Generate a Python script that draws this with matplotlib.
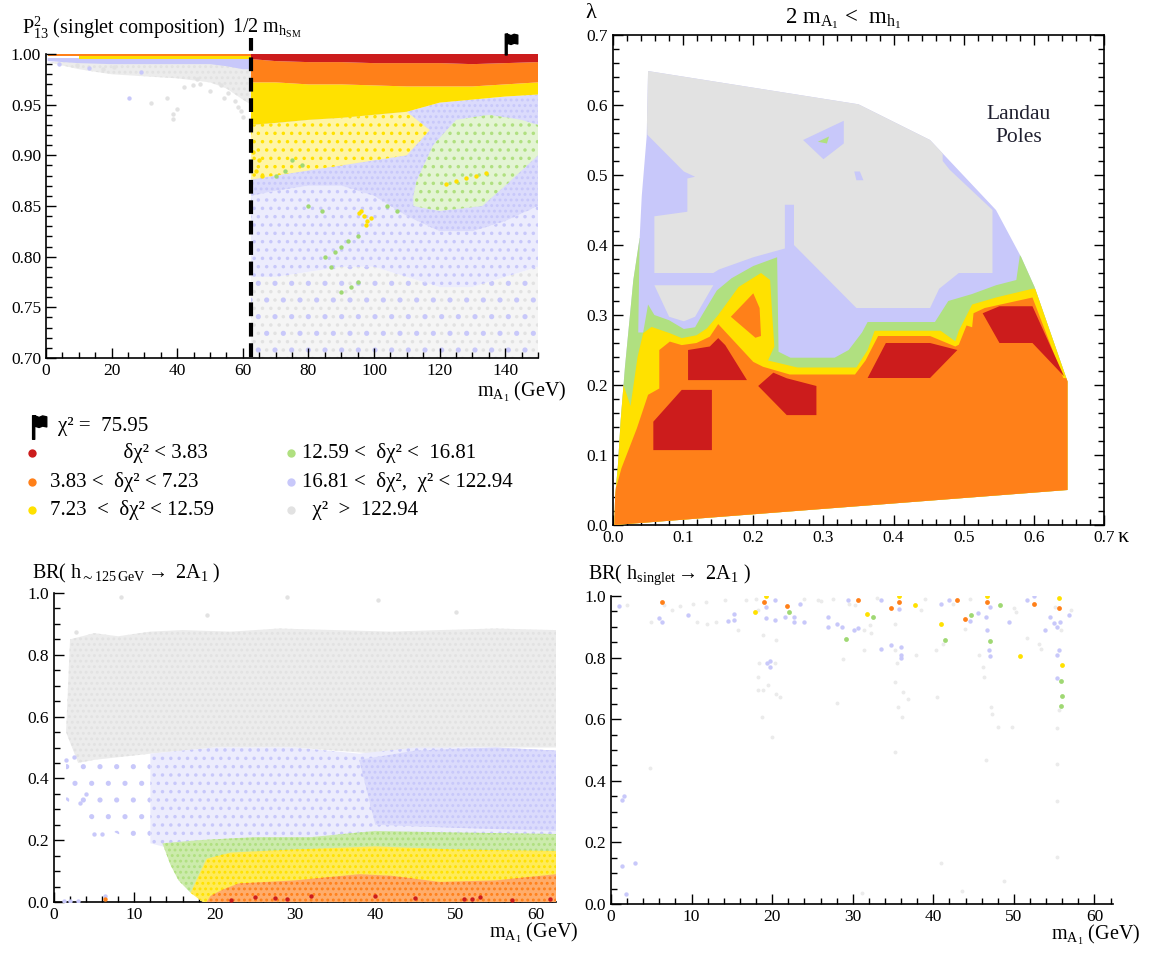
import numpy as np
import matplotlib as mpl
import matplotlib.pyplot as plt
import matplotlib.ticker as mticker
from matplotlib.path import Path
from matplotlib.patches import Polygon
from matplotlib.colors import to_rgb

mpl.rcParams['font.family'] = ['Liberation Serif', 'DejaVu Serif']
mpl.rcParams['mathtext.fontset'] = 'custom'
mpl.rcParams['mathtext.rm'] = 'Liberation Serif'
mpl.rcParams['mathtext.it'] = 'Liberation Serif:italic'
mpl.rcParams['mathtext.default'] = 'regular'
mpl.rcParams['hatch.linewidth'] = 1.3

RED, ORANGE, YELLOW = '#cc1c1c', '#ff8019', '#ffe100'
GREEN, BLUE, GRAY = '#b0e080', '#c8c8fa', '#e2e2e2'

# ---------------------------------------------------------------- data
# top left: singlet composition vs m_A1, bands read off the scatter cloud
tl_m_left = [0.5, 10, 20, 30, 40, 50, 55, 60, 62.5]
tl_left_blue_low = [0.993, 0.991, 0.990, 0.990, 0.990, 0.990, 0.988, 0.985, 0.985]
tl_left_gray_low = [0.992, 0.985, 0.980, 0.978, 0.976, 0.972, 0.966, 0.955, 0.950]
tl_left_gray_m = [37.0, 38.7, 38.7, 39.8, 42.0, 44.8, 47.1, 32.0, 54.4, 55.5, 57.7,
                  59.4, 60.0, 53.3, 17.4, 20.7, 9.5, 50.0, 46.0, 58.5]
tl_left_gray_p = [0.957, 0.941, 0.936, 0.946, 0.967, 0.969, 0.970, 0.952, 0.957, 0.962,
                  0.954, 0.944, 0.938, 0.969, 0.985, 0.987, 0.989, 0.963, 0.975, 0.948]
tl_left_blue_m = [25.2, 29.1, 13.0, 4.0]
tl_left_blue_p = [0.957, 0.982, 0.986, 0.990]

tl_m = [62.5, 70, 80, 90, 100, 110, 120, 130, 140, 150]
tl_red_low = [0.995, 0.993, 0.992, 0.992, 0.991, 0.991, 0.991, 0.990, 0.991, 0.992]
tl_orange_low = [0.972, 0.972, 0.970, 0.970, 0.969, 0.968, 0.968, 0.968, 0.970, 0.972]
tl_yellow_low = [0.930, 0.932, 0.935, 0.937, 0.940, 0.943, 0.952, 0.955, 0.958, 0.960]
tl_blue_dense_low = [0.860, 0.865, 0.870, 0.870, 0.860, 0.840, 0.825, 0.825, 0.835, 0.850]
tl_blue_mid_low = [0.780, 0.780, 0.785, 0.790, 0.790, 0.780, 0.770, 0.770, 0.780, 0.790]
tl_stripe_m = [62.5, 70, 80, 90, 100, 110, 117, 110, 100, 90, 80, 70, 62.5]
tl_stripe_p = [0.930, 0.932, 0.935, 0.937, 0.940, 0.943, 0.925, 0.900, 0.895, 0.890,
               0.885, 0.880, 0.876]
tl_green_m = [112, 113, 118, 125, 135, 145, 150, 150, 140, 133, 120, 112]
tl_green_p = [0.860, 0.875, 0.910, 0.935, 0.940, 0.935, 0.930, 0.900, 0.870, 0.850,
              0.845, 0.850]
tl_green_pts_m = [90, 88, 85, 92, 95, 93, 95, 90, 80, 84, 87, 104, 107, 75, 78, 70, 73]
tl_green_pts_p = [0.810, 0.805, 0.800, 0.815, 0.820, 0.770, 0.775, 0.765, 0.850, 0.845,
                  0.790, 0.850, 0.845, 0.895, 0.890, 0.880, 0.885]
tl_yellow_pts_m = [96, 97, 98, 99, 95.5, 97.5, 63, 64, 66, 65, 122, 125, 128, 131, 134]
tl_yellow_pts_p = [0.845, 0.840, 0.835, 0.838, 0.843, 0.831, 0.903, 0.885, 0.880, 0.895,
                   0.872, 0.875, 0.878, 0.880, 0.883]
flag_m, flag_p = 141.5, 1.010

# top right: (kappa, lambda) regions of the best delta chi^2
outer_k = [0.002, 0.648, 0.648, 0.601, 0.582, 0.546, 0.452, 0.350, 0.050, 0.048,
           0.041, 0.038, 0.029, 0.017, 0.011, 0.007, 0.003]
outer_l = [0.0, 0.05, 0.205, 0.34, 0.3825, 0.45, 0.55, 0.601, 0.6485, 0.555,
           0.47, 0.41, 0.35, 0.225, 0.15, 0.085, 0.04]
gray_k = [0.045, 0.47, 0.47, 0.480, 0.541, 0.541, 0.493, 0.465, 0.452, 0.347, 0.258,
          0.258, 0.245, 0.245, 0.200, 0.151, 0.143, 0.059, 0.059, 0.106, 0.106, 0.117,
          0.101, 0.049]
gray_l = [0.70, 0.70, 0.52, 0.5075, 0.45, 0.36, 0.36, 0.3375, 0.31, 0.31, 0.40,
          0.4575, 0.4575, 0.395, 0.3825, 0.365, 0.36, 0.36, 0.441, 0.4475, 0.495, 0.4975,
          0.505, 0.5575]
gray_isl_k = [0.059, 0.143, 0.117, 0.101, 0.080]
gray_isl_l = [0.3425, 0.3425, 0.2975, 0.291, 0.2975]
blue_isl_k = [0.271, 0.329, 0.329, 0.300]
blue_isl_l = [0.550, 0.5775, 0.545, 0.5225]
green_isl_k = [0.292, 0.308, 0.305]
green_isl_l = [0.5475, 0.555, 0.545]
blue_dot_k = [0.344, 0.352, 0.357, 0.347]
blue_dot_l = [0.505, 0.505, 0.4925, 0.4925]
green_k = [-0.02, 0.038, 0.036, 0.043, 0.050, 0.059, 0.080, 0.101, 0.117, 0.127, 0.148,
           0.169, 0.200, 0.234, 0.236, 0.253, 0.316, 0.336, 0.355, 0.363, 0.459, 0.478,
           0.512, 0.546, 0.575, 0.580, 0.70, 0.70, -0.02]
green_l = [0.41, 0.41, 0.275, 0.275, 0.315, 0.30, 0.2925, 0.28, 0.2825, 0.30, 0.335,
           0.3525, 0.37, 0.3825, 0.2475, 0.239, 0.239, 0.25, 0.275, 0.29, 0.29, 0.32,
           0.33, 0.3425, 0.35, 0.385, 0.385, -0.05, -0.05]
yellow_k = [-0.02, 0.015, 0.025, 0.035, 0.043, 0.055, 0.081, 0.098, 0.119, 0.134, 0.150,
            0.179, 0.211, 0.224, 0.227, 0.230, 0.221, 0.263, 0.347, 0.363, 0.373, 0.467,
            0.488, 0.493, 0.512, 0.546, 0.598, 0.70, 0.70, -0.02]
yellow_l = [0.20, 0.20, 0.17, 0.24, 0.274, 0.283, 0.274, 0.267, 0.271, 0.281, 0.30,
            0.34, 0.36, 0.35, 0.30, 0.255, 0.235, 0.225, 0.225, 0.25, 0.2775, 0.2775,
            0.2625, 0.2775, 0.315, 0.325, 0.3375, 0.3375, -0.05, -0.05]
orange_k = [-0.02, -0.02, 0.005, 0.012, 0.034, 0.050, 0.066, 0.066, 0.081, 0.098, 0.119,
            0.138, 0.150, 0.200, 0.214, 0.252, 0.345, 0.360, 0.378, 0.452, 0.488, 0.493,
            0.504, 0.512, 0.514, 0.530, 0.598, 0.642, 0.70, 0.70]
orange_l = [-0.05, 0.05, 0.055, 0.081, 0.138, 0.186, 0.195, 0.25, 0.262, 0.257, 0.26,
            0.269, 0.287, 0.233, 0.226, 0.215, 0.215, 0.235, 0.27, 0.27, 0.255, 0.2575,
            0.285, 0.2825, 0.3025, 0.31, 0.325, 0.21, 0.205, -0.05]
lens_k = [0.168, 0.200, 0.209, 0.211, 0.203]
lens_l = [0.2975, 0.331, 0.31, 0.27, 0.2675]
red_regions = [
    ([0.0575, 0.098, 0.141, 0.141, 0.0575], [0.1476, 0.193, 0.193, 0.107, 0.107]),
    ([0.107, 0.138, 0.150, 0.160, 0.191, 0.107], [0.25, 0.255, 0.267, 0.257, 0.207, 0.207]),
    ([0.207, 0.2286, 0.2477, 0.290, 0.290, 0.2477], [0.1986, 0.2176, 0.2096, 0.1986, 0.157, 0.157]),
    ([0.363, 0.389, 0.452, 0.491, 0.452], [0.21, 0.26, 0.26, 0.25, 0.21]),
    ([0.527, 0.551, 0.598, 0.643, 0.598, 0.551], [0.3025, 0.3125, 0.3125, 0.2125, 0.26, 0.26]),
]

# bottom left: BR(h_125 -> 2 A1) vs m_A1, bands of the scatter cloud
bl_gray_m = [1.5, 2, 5, 8, 12, 16, 22, 28, 35, 42, 48, 55, 62.5, 62.5, 50, 40, 30, 20,
             12, 5, 3]
bl_gray_v = [0.55, 0.85, 0.87, 0.86, 0.875, 0.88, 0.875, 0.885, 0.88, 0.875, 0.88, 0.885,
             0.88, 0.50, 0.50, 0.48, 0.50, 0.50, 0.48, 0.46, 0.45]
bl_blue_m = [12, 20, 30, 38, 45, 55, 62.5, 62.5, 50, 40, 30, 20, 15, 12]
bl_blue_v = [0.48, 0.50, 0.50, 0.48, 0.50, 0.50, 0.49, 0.20, 0.22, 0.22, 0.20, 0.19,
             0.17, 0.19]
bl_blue_sparse_m = [1.5, 5, 8, 12, 12, 8, 5, 3, 1.5]
bl_blue_sparse_v = [0.47, 0.48, 0.47, 0.48, 0.19, 0.22, 0.26, 0.30, 0.33]
bl_blue_dense_m = [38, 45, 55, 62.5, 62.5, 50, 40]
bl_blue_dense_v = [0.46, 0.49, 0.50, 0.49, 0.23, 0.24, 0.25]
bl_green_m = [13.5, 18, 25, 32, 40, 50, 62.5, 62.5, 40, 25, 20, 17, 15.5, 14.5]
bl_green_v = [0.19, 0.20, 0.21, 0.21, 0.23, 0.225, 0.22, 0.12, 0.13, 0.12, 0.10, 0.03,
              0.07, 0.12]
bl_yellow_m = [17, 19, 22, 30, 40, 50, 62.5, 62.5, 18.5]
bl_yellow_v = [0.03, 0.14, 0.16, 0.17, 0.18, 0.17, 0.165, 0.0, 0.0]
bl_orange_m = [19, 19.5, 21, 23, 30, 38, 42, 48, 55, 62.5, 62.5]
bl_orange_v = [0.0, 0.02, 0.04, 0.06, 0.07, 0.09, 0.085, 0.065, 0.07, 0.09, 0.0]
bl_red_m = [25, 27.5, 32, 29, 40, 51, 52, 53, 61.8, 22, 45, 57]
bl_red_v = [0.015, 0.012, 0.020, 0.010, 0.020, 0.010, 0.010, 0.015, 0.010, 0.005,
            0.012, 0.008]
bl_gray_out_m = [8.4, 29.0, 40.3, 50.1, 19.0, 2.8]
bl_gray_out_v = [0.987, 0.987, 0.976, 0.940, 0.930, 0.875]
bl_blue_out_m = [1.2, 2.0, 3.0, 6.3, 1.5, 2.5, 4.0, 5.0, 6.0, 3.2]
bl_blue_out_v = [0.003, 0.003, 0.003, 0.020, 0.46, 0.47, 0.35, 0.22, 0.22, 0.32]
bl_orange_out_m = [6.3]
bl_orange_out_v = [0.010]

# bottom right: BR(h_singlet -> 2 A1) vs m_A1, individual points
br_orange_m = [6.3, 19.0, 21.9, 30.7, 34.7, 35.8, 43.0, 43.9, 46.7, 52.5, 55.6]
br_orange_v = [0.981, 0.981, 0.966, 0.986, 0.962, 0.981, 0.986, 0.924, 0.981, 0.975, 0.962]
br_yellow_m = [17.9, 19.2, 31.8, 35.8, 37.7, 41.0, 46.7, 50.7, 55.6, 56.0]
br_yellow_v = [0.947, 1.0, 0.943, 1.0, 0.972, 0.910, 1.0, 0.804, 0.995, 0.775]
br_green_m = [22.1, 29.2, 32.5, 41.4, 44.7, 47.0, 48.3, 55.8, 56.0, 55.8]
br_green_v = [0.948, 0.862, 0.932, 0.856, 0.937, 0.853, 0.972, 0.723, 0.676, 0.643]
br_blue_m = [1.0, 5.9, 6.3, 9.6, 14.5, 15.3, 15.3, 19.2, 19.2, 20.3, 20.3, 21.6, 22.7,
             22.7, 23.9, 23.5, 26.9, 26.9, 28.0, 28.7, 29.4, 30.1, 30.7, 33.5, 33.5, 34.7,
             35.8, 36.0, 36.0, 36.0, 40.9, 42.0, 44.6, 45.6, 46.5, 46.7, 46.9, 47.0, 47.0,
             49.4, 51.6, 52.5, 53.8, 54.5, 55.0, 55.4, 55.6, 55.4, 55.4, 55.7, 56.9, 19.7,
             19.7, 19.3, 1.37, 1.6, 1.37, 1.9, 2.96]
br_blue_v = [0.966, 0.929, 0.914, 0.937, 0.918, 0.943, 0.923, 0.964, 0.929, 0.986, 0.923,
             0.932, 0.932, 0.914, 0.914, 0.975, 0.932, 0.899, 0.908, 0.899, 0.988, 0.889,
             0.897, 0.988, 0.827, 0.842, 0.959, 0.835, 0.799, 0.810, 0.975, 0.988, 0.919,
             0.945, 0.932, 0.889, 0.824, 0.804, 0.964, 0.916, 0.986, 1.0, 0.891, 0.932,
             0.912, 0.899, 0.824, 0.810, 0.734, 0.914, 0.937, 0.788, 0.770, 0.781, 0.337,
             0.350, 0.123, 0.032, 0.132]
br_gray_m = [2.0, 5.0, 6.6, 7.6, 8.6, 10.2, 10.7, 11.8, 11.9, 13.0, 14.1, 15.7, 16.8, 18.0,
             18.3, 18.9, 18.4, 18.2, 18.3, 18.9, 18.8, 19.5, 20.3, 20.0, 20.5, 21.0, 20.5,
             25.7, 27.5, 28.8, 28.1, 30.3, 31.4, 32.1, 32.3, 31.4, 35.3, 35.2, 35.5, 35.3,
             35.6, 36.1, 36.3, 36.8, 35.2, 37.8, 38.5, 40.4, 40.3, 41.2, 41.0, 43.5, 43.9,
             45.7, 46.3, 46.5, 46.2, 47.1, 47.3, 48.0, 49.8, 48.8, 50.3, 51.6, 53.1, 53.4,
             55.3, 55.4, 55.4, 55.3, 55.6, 55.1, 57.1, 31.1, 4.9, 55.8, 24.0, 26.0, 39.0,
             42.5, 44.5, 50.0, 29.5, 33.0]
br_gray_v = [0.972, 0.914, 0.970, 0.956, 0.966, 0.975, 0.916, 0.981, 0.908, 0.916, 0.986,
             0.889, 0.986, 0.991, 0.954, 0.872, 0.781, 0.737, 0.694, 0.694, 0.608, 0.710,
             0.781, 0.543, 0.683, 0.672, 0.856, 0.986, 0.991, 0.797, 0.651, 0.970, 0.889,
             0.905, 0.880, 0.824, 0.910, 0.824, 0.781, 0.721, 0.640, 0.608, 0.689, 0.667,
             0.494, 0.808, 0.954, 0.672, 0.824, 0.845, 0.132, 0.043, 0.894, 0.808, 0.737,
             0.467, 0.770, 0.640, 0.618, 0.575, 0.575, 0.076, 0.948, 0.865, 0.843, 0.829,
             0.570, 0.456, 0.335, 0.154, 0.631, 0.964, 0.954, 0.035, 0.440, 0.889, 0.990,
             0.985, 0.990, 0.975, 0.990, 0.960, 0.975, 0.995]

legend_left = [(RED, '              δχ² < 3.83'), (ORANGE, '3.83 <  δχ² < 7.23'),
               (YELLOW, '7.23  <  δχ² < 12.59')]
legend_right = [(GREEN, '12.59 <  δχ² <  16.81'), (BLUE, '16.81 <  δχ²,  χ² < 122.94'),
                (GRAY, '  χ²  >  122.94')]


# ---------------------------------------------------------------- helpers
def tint(color, f):
    c = np.array(to_rgb(color))
    return tuple(c + (1 - c) * f)


def blob(ax, xs, ys, color, kind='solid', clip=None, z=1):
    if kind == 'solid':
        kw = dict(facecolor=color, edgecolor='none', linewidth=0)
    else:
        face = {'dense': tint(color, 0.35), 'medium': tint(color, 0.65), 'sparse': 'none'}[kind]
        hatch = {'dense': '...', 'medium': '..', 'sparse': '.'}[kind]
        kw = dict(facecolor=face, edgecolor=color, hatch=hatch, linewidth=0)
    p, = ax.fill(xs, ys, zorder=z, **kw)
    if clip is not None:
        p.set_clip_path(clip)
    return p


def band(ax, xs, lo, hi, color, kind='solid', z=1):
    xs = list(xs)
    return blob(ax, xs + xs[::-1], list(hi) + list(lo)[::-1], color, kind, z=z)


def dots(ax, xs, ys, color, s=10, z=3):
    ax.scatter(xs, ys, s=s, c=color, linewidths=0, zorder=z)


def style(ax, xmaj, xmin, ymaj, ymin, frame=False):
    ax.xaxis.set_major_locator(mticker.MultipleLocator(xmaj))
    ax.xaxis.set_minor_locator(mticker.MultipleLocator(xmin))
    ax.yaxis.set_major_locator(mticker.MultipleLocator(ymaj))
    ax.yaxis.set_minor_locator(mticker.MultipleLocator(ymin))
    ax.tick_params(which='both', direction='in', width=1, labelsize=12.5,
                   top=frame, right=frame)
    ax.tick_params(which='major', length=7)
    ax.tick_params(which='minor', length=4)
    for s in ['left', 'bottom']:
        ax.spines[s].set_linewidth(1.2)
    if not frame:
        ax.spines['top'].set_visible(False)
        ax.spines['right'].set_visible(False)
    else:
        ax.spines['top'].set_linewidth(1.2)
        ax.spines['right'].set_linewidth(1.2)
    ax.set_axisbelow(False)


flag = Path([(-0.5, -1), (-0.32, -1), (-0.32, 1), (-0.5, 1), (-0.5, -1),
             (-0.32, 1), (0.05, 0.85), (0.35, 0.98), (0.7, 0.9), (0.7, 0.05),
             (0.35, 0.12), (0.05, 0.0), (-0.32, 0.12), (-0.32, 1)],
            [Path.MOVETO, Path.LINETO, Path.LINETO, Path.LINETO, Path.CLOSEPOLY,
             Path.MOVETO, Path.LINETO, Path.LINETO, Path.LINETO, Path.LINETO,
             Path.LINETO, Path.LINETO, Path.LINETO, Path.CLOSEPOLY])

W, H = 1152, 965
fig = plt.figure(figsize=(W / 100, H / 100), dpi=100)


def box(l, t, r, b):
    return fig.add_axes([l / W, 1 - b / H, (r - l) / W, (b - t) / H])


# ---------------------------------------------------------------- top left
ax = box(46, 54, 538, 358)
band(ax, tl_m_left, tl_left_gray_low, [0.992] * 9, GRAY, 'dense')
band(ax, tl_m_left, tl_left_blue_low, [0.996] * 9, BLUE, 'solid')
band(ax, tl_m_left[1:], [0.9955] * 8, [0.998] * 8, YELLOW, 'solid')
band(ax, tl_m_left, [0.998] * 9, [1.0] * 9, ORANGE, 'solid')
dots(ax, tl_left_gray_m, tl_left_gray_p, GRAY)
dots(ax, tl_left_blue_m, tl_left_blue_p, BLUE)

band(ax, tl_m, [0.70] * 10, tl_blue_mid_low, GRAY, 'medium', z=1)
band(ax, tl_m, [0.70] * 10, tl_blue_mid_low, BLUE, 'sparse', z=2)
band(ax, tl_m, tl_blue_mid_low, tl_blue_dense_low, BLUE, 'medium', z=2)
band(ax, tl_m, tl_blue_dense_low, tl_yellow_low, BLUE, 'dense', z=2)
blob(ax, tl_stripe_m, tl_stripe_p, tint(BLUE, 0.3), 'solid', z=2)
blob(ax, tl_stripe_m, tl_stripe_p, YELLOW, 'medium', z=2)
blob(ax, tl_green_m, tl_green_p, GREEN, 'medium', z=2)
band(ax, tl_m, tl_yellow_low, tl_orange_low, YELLOW, 'solid', z=2)
band(ax, tl_m, tl_orange_low, tl_red_low, ORANGE, 'solid', z=2)
band(ax, tl_m, tl_red_low, [1.0] * 10, RED, 'solid', z=2)
dots(ax, tl_green_pts_m, tl_green_pts_p, '#9fd873')
dots(ax, tl_yellow_pts_m, tl_yellow_pts_p, YELLOW)

ax.plot([62.5, 62.5], [0.701, 1.016], color='k', lw=3, dashes=(3.3, 1.6),
        clip_on=False, zorder=5)
ax.plot([flag_m], [flag_p], marker=flag, ms=15, color='k', clip_on=False,
        linestyle='none', zorder=6)
ax.set_xlim(0, 150)
ax.set_ylim(0.70, 1.0)
style(ax, 20, 5, 0.05, 0.01)
ax.yaxis.set_major_formatter(mticker.FormatStrFormatter('%.2f'))
fig.text(22 / W, 1 - 28 / H, r'P$^2_{13}$ (singlet composition)', fontsize=14.5,
         va='center', ha='left')
fig.text(232 / W, 1 - 28 / H, r'1/2 m$_{\mathrm{h}_{\mathrm{SM}}}$', fontsize=14.5,
         va='center', ha='left')
fig.text(566 / W, 1 - 392 / H, r'm$_{\mathrm{A}_1}$ (GeV)', fontsize=14.5,
         va='center', ha='right')

# ---------------------------------------------------------------- top right
ax = box(613, 35, 1104, 525)
outer = Polygon(np.column_stack([outer_k, outer_l]), closed=True, transform=ax.transData,
                facecolor=BLUE, edgecolor='none', zorder=1)
ax.add_patch(outer)
blob(ax, gray_k, gray_l, GRAY, clip=outer, z=2)
blob(ax, gray_isl_k, gray_isl_l, GRAY, z=2)
blob(ax, blue_isl_k, blue_isl_l, BLUE, z=3)
blob(ax, green_isl_k, green_isl_l, GREEN, z=4)
blob(ax, blue_dot_k, blue_dot_l, BLUE, z=3)
blob(ax, green_k, green_l, GREEN, clip=outer, z=5)
blob(ax, yellow_k, yellow_l, YELLOW, clip=outer, z=6)
blob(ax, orange_k, orange_l, ORANGE, clip=outer, z=7)
blob(ax, lens_k, lens_l, ORANGE, z=8)
for rk, rl in red_regions:
    blob(ax, rk, rl, RED, z=9)
ax.text(0.578, 0.57, 'Landau\nPoles', fontsize=15.5, ha='center', va='center',
        linespacing=1.35, color='#202030')
ax.set_xlim(0, 0.7)
ax.set_ylim(0, 0.7)
style(ax, 0.1, 0.02, 0.1, 0.02, frame=True)
ax.xaxis.set_major_formatter(mticker.FormatStrFormatter('%.1f'))
ax.yaxis.set_major_formatter(mticker.FormatStrFormatter('%.1f'))
fig.text(591 / W, 1 - 13 / H, 'λ', fontsize=16, va='center', ha='center')
fig.text(1123 / W, 1 - 537 / H, 'κ', fontsize=16, va='center', ha='center')
fig.text(843 / W, 1 - 19 / H, r'2 m$_{\mathrm{A}_1}$ <  m$_{\mathrm{h}_1}$', fontsize=16.5,
         va='center', ha='center')

# ---------------------------------------------------------------- legend
lax = fig.add_axes([0, 0, 1, 1], facecolor='none')
lax.set_axis_off()
lax.set_xlim(0, W)
lax.set_ylim(H, 0)
lax.plot([38], [427], marker=flag, ms=17, color='k', linestyle='none')
lax.text(58, 427, 'χ² =  75.95', fontsize=15, va='center', ha='left')
for i, (c, t) in enumerate(legend_left):
    y = 453 + i * 28.5
    lax.scatter([32], [y], s=36, c=c, linewidths=0)
    lax.text(50, y, t, fontsize=15, va='center', ha='left')
for i, (c, t) in enumerate(legend_right):
    y = 453 + i * 28.5
    lax.scatter([291], [y], s=36, c=c, linewidths=0)
    lax.text(302, y, t, fontsize=15, va='center', ha='left')

# ---------------------------------------------------------------- bottom left
ax = box(54, 593, 556, 902)
blob(ax, bl_gray_m, bl_gray_v, GRAY, 'dense')
blob(ax, bl_blue_sparse_m, bl_blue_sparse_v, BLUE, 'sparse', z=2)
blob(ax, bl_blue_m, bl_blue_v, BLUE, 'medium', z=2)
blob(ax, bl_blue_dense_m, bl_blue_dense_v, BLUE, 'dense', z=2)
blob(ax, bl_green_m, bl_green_v, GREEN, 'dense', z=3)
blob(ax, bl_yellow_m, bl_yellow_v, YELLOW, 'dense', z=4)
blob(ax, bl_orange_m, bl_orange_v, ORANGE, 'dense', z=5)
dots(ax, bl_red_m, bl_red_v, RED, z=6)
dots(ax, bl_gray_out_m, bl_gray_out_v, GRAY)
dots(ax, bl_blue_out_m, bl_blue_out_v, BLUE)
dots(ax, bl_orange_out_m, bl_orange_out_v, ORANGE)
ax.set_xlim(0, 62.5)
ax.set_ylim(0, 1.0)
style(ax, 10, 2, 0.2, 0.05)
ax.yaxis.set_major_formatter(mticker.FormatStrFormatter('%.1f'))
fig.text(32 / W, 1 - 573 / H,
         r'BR( h$_{\sim 125\,\mathrm{GeV}}$$\rightarrow$ 2A$_1$ )', fontsize=14.5,
         va='center', ha='left')
fig.text(578 / W, 1 - 933 / H, r'm$_{\mathrm{A}_1}$ (GeV)', fontsize=14.5,
         va='center', ha='right')

# ---------------------------------------------------------------- bottom right
ax = box(611, 596, 1113, 904)
dots(ax, br_gray_m, br_gray_v, '#ebebeb', s=8)
dots(ax, br_blue_m, br_blue_v, BLUE, s=10)
dots(ax, br_green_m, br_green_v, '#9fd873', s=12)
dots(ax, br_yellow_m, br_yellow_v, YELLOW, s=12)
dots(ax, br_orange_m, br_orange_v, ORANGE, s=12)
ax.set_xlim(0, 62.3)
ax.set_ylim(0, 1.0)
style(ax, 10, 2, 0.2, 0.05)
ax.yaxis.set_major_formatter(mticker.FormatStrFormatter('%.1f'))
fig.text(588 / W, 1 - 575 / H,
         r'BR( h$_{\mathrm{singlet}}$$\rightarrow$ 2A$_1$ )', fontsize=14.5,
         va='center', ha='left')
fig.text(1140 / W, 1 - 935 / H, r'm$_{\mathrm{A}_1}$ (GeV)', fontsize=14.5,
         va='center', ha='right')

fig.savefig('out.png', dpi=100)
